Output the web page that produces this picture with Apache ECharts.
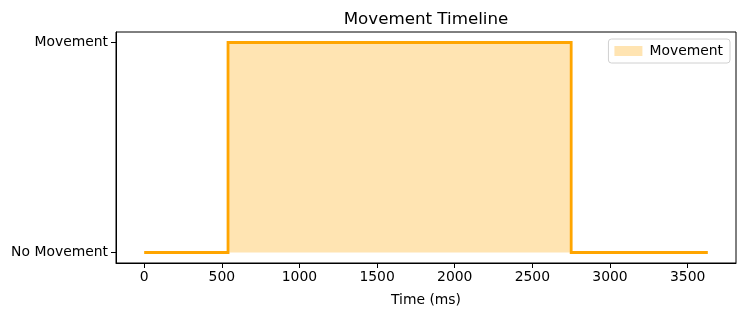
<!DOCTYPE html>
<html><head><meta charset="utf-8">
<script src="https://cdn.jsdelivr.net/npm/echarts@6/dist/echarts.min.js"></script>
<style>html,body{margin:0;padding:0;background:#fff}#c{width:746px;height:316px}</style>
</head><body><div id="c"></div>
<script>
const timesMs = [0, 540, 540, 2750, 2750, 3630];
const movementState = [0, 0, 1, 1, 0, 0];
const xTicks = [0, 500, 1000, 1500, 2000, 2500, 3000, 3500];
const yTicks = [0, 1];
const yTickLabels = ['No Movement', 'Movement'];
const seriesName = 'Movement';

const F = 'DejaVu Sans';
const chart = echarts.init(document.getElementById('c'), null, {renderer: 'canvas'});
const span = 3630;
chart.setOption({
  animation: false,
  title: {text: 'Movement Timeline', left: 421, top: 6, textAlign: 'center',
    textStyle: {fontFamily: F, fontSize: 16.7, fontWeight: 'normal', color: '#000'}},
  grid: {left: 116, top: 32, right: 10, bottom: 53, show: true, borderColor: '#000', borderWidth: 1},
  legend: {
    right: 16, top: 39, orient: 'vertical',
    padding: [5, 7, 5, 6], borderColor: '#d0d0d0', borderWidth: 1, borderRadius: 3,
    backgroundColor: 'rgba(255,255,255,0.8)',
    itemWidth: 28, itemHeight: 10, itemGap: 4,
    textStyle: {fontFamily: F, fontSize: 13.9, color: '#000', padding: [0, 0, 0, 2]},
    data: [{name: seriesName, icon: 'rect', itemStyle: {color: 'rgba(255,165,0,0.3)', borderWidth: 0}}]
  },
  xAxis: {
    type: 'value', min: -0.05 * span, max: 1.05 * span,
    name: 'Time (ms)', nameLocation: 'middle', nameGap: 30,
    nameTextStyle: {fontFamily: F, fontSize: 13.9, color: '#000'},
    axisLine: {show: true, onZero: false, lineStyle: {color: '#000'}},
    axisTick: {show: true, length: 5, lineStyle: {color: '#000'}, customValues: xTicks},
    axisLabel: {customValues: xTicks, fontFamily: F, fontSize: 13.9, color: '#000', margin: 7,
      formatter: v => String(Math.round(v))},
    splitLine: {show: false}
  },
  yAxis: {
    type: 'value', min: -0.05, max: 1.05,
    axisLine: {show: true, onZero: false, lineStyle: {color: '#000'}},
    axisTick: {show: true, length: 5, lineStyle: {color: '#000'}, customValues: yTicks},
    axisLabel: {customValues: yTicks, fontFamily: F, fontSize: 13.9, color: '#000', margin: 8,
      formatter: v => yTickLabels[yTicks.indexOf(Math.round(v))] || ''},
    splitLine: {show: false}
  },
  series: [{
    name: seriesName, type: 'line', showSymbol: false, symbol: 'none',
    data: timesMs.map((t, i) => [t, movementState[i]]),
    lineStyle: {color: '#FFA500', width: 2.8, join: 'miter', cap: 'butt'},
    itemStyle: {color: 'rgba(255,165,0,0.3)'},
    areaStyle: {color: 'rgb(255,228,178)', opacity: 1, origin: 0},
    z: 3
  }]
});
</script></body></html>
